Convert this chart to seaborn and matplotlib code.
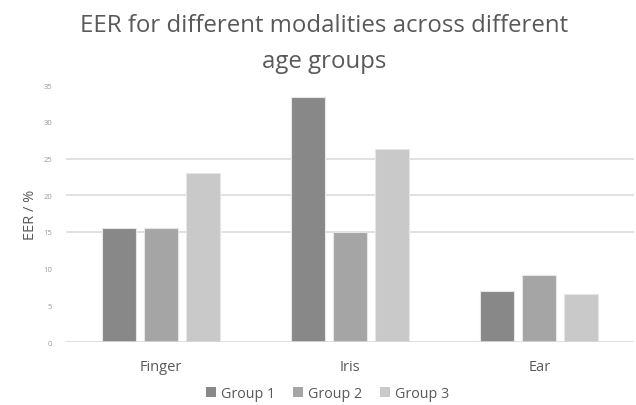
import matplotlib
matplotlib.use("Agg")
import matplotlib.pyplot as plt
import seaborn as sns
import pandas as pd
from matplotlib.patches import Patch

# EER values (%) per modality and age group
modalities = ["Finger", "Iris", "Ear"]
groups = ["Group 1", "Group 2", "Group 3"]
group1 = [15.5, 33.4, 7.0]
group2 = [15.5, 15.0, 9.2]
group3 = [23.0, 26.3, 6.6]
y_ticks = [0, 5, 10, 15, 20, 25, 30, 35]
grid_levels = [15, 20, 25]

colors = ["#888888", "#a5a5a5", "#c9c9c9"]

rows = []
for g, vals in zip(groups, [group1, group2, group3]):
    for m, v in zip(modalities, vals):
        rows.append({"Modality": m, "Group": g, "EER": v})
df = pd.DataFrame(rows)

sns.set_theme(style="white")
plt.rcParams["font.family"] = ["Open Sans", "DejaVu Sans"]

fig = plt.figure(figsize=(6.36, 4.06), dpi=100)
ax = fig.add_axes([0.1038, 0.155, 0.893, 0.633])

sns.barplot(data=df, x="Modality", y="EER", hue="Group", order=modalities,
            hue_order=groups, palette=colors, width=0.666, gap=0.19,
            edgecolor="#e6e6e6", linewidth=0.8, legend=False, ax=ax,
            errorbar=None, zorder=3)

ax.set_ylim(0, 35)
ax.set_xlim(-0.5, 2.5)
ax.set_yticks(y_ticks)
ax.set_yticklabels([str(t) for t in y_ticks], fontsize=5.5, color="#9a9a9a")
ax.tick_params(axis="y", length=0, pad=10)
ax.tick_params(axis="x", length=0, pad=12, labelsize=10.5, labelcolor="#595959")
for lvl in grid_levels:
    ax.axhline(lvl, color="#dcdcdc", linewidth=1.2, zorder=1)
ax.axhline(0, color="#d9d9d9", linewidth=1.2, zorder=4)

for s in ax.spines.values():
    s.set_visible(False)

ax.set_xlabel("")
ax.set_ylabel("EER / %", fontsize=10.5, color="#595959", labelpad=4)

fig.text(0.51, 0.922, "EER for different modalities across different",
         ha="center", va="baseline", fontsize=17.3, color="#595959")
fig.text(0.51, 0.8325, "age groups",
         ha="center", va="baseline", fontsize=17.3, color="#595959")

handles = [Patch(facecolor=c, edgecolor="none") for c in colors]
fig.legend(handles, groups, loc="center", bbox_to_anchor=(0.515, 0.028),
           ncol=3, frameon=False, fontsize=10.3, handlelength=0.7,
           handleheight=0.7, handletextpad=0.4, columnspacing=1.2,
           labelcolor="#595959")

fig.savefig("out.png", dpi=100)
